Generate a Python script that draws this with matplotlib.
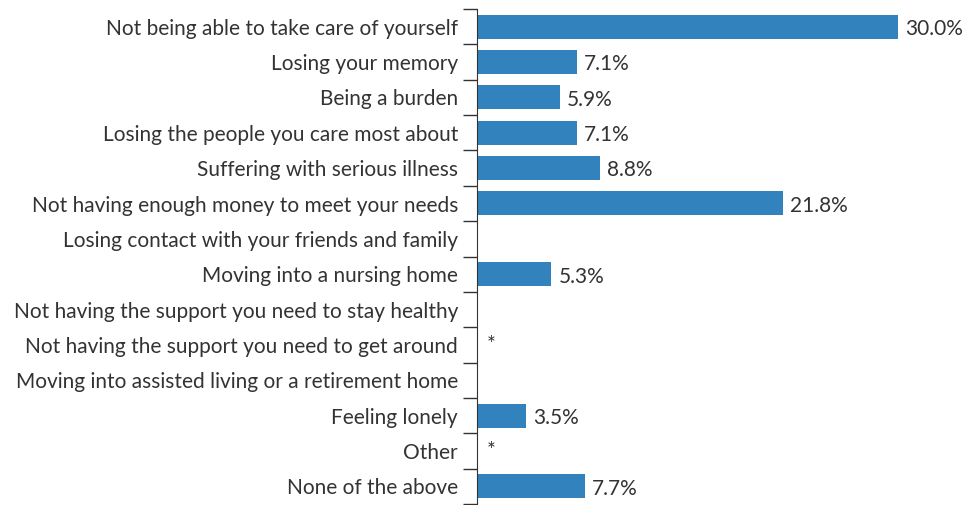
import numpy as np
import matplotlib.pyplot as plt

plt.rcParams['font.family'] = ['Lato', 'DejaVu Sans']

# answers, top to bottom
categories = [
    "Not being able to take care of yourself",
    "Losing your memory",
    "Being a burden",
    "Losing the people you care most about",
    "Suffering with serious illness",
    "Not having enough money to meet your needs",
    "Losing contact with your friends and family",
    "Moving into a nursing home",
    "Not having the support you need to stay healthy",
    "Not having the support you need to get around",
    "Moving into assisted living or a retirement home",
    "Feeling lonely",
    "Other",
    "None of the above",
]
# percent; nan = no bar shown
values = [30.0, 7.1, 5.9, 7.1, 8.8, 21.8, np.nan, 5.3, np.nan, 0.0, np.nan, 3.5, 0.0, 7.7]
value_labels = ["30.0%", "7.1%", "5.9%", "7.1%", "8.8%", "21.8%", "", "5.3%", "",
                "*", "", "3.5%", "*", "7.7%"]

bar_color = "#3182bd"
text_color = "#333333"

fig = plt.figure(figsize=(9.66, 5.06), dpi=100)
ax = fig.add_axes([477 / 966, 1 / 506, (898 - 477) / 966, 495 / 506])

y = np.arange(len(categories))
vals = np.nan_to_num(np.array(values))
ax.barh(y, vals, height=0.68, color=bar_color)

for yi, v, lab in zip(y, vals, value_labels):
    if lab:
        star = lab == "*"
        ax.annotate(lab, (v, yi), xytext=(7 if star else 5, 1 if star else -1), textcoords="offset points",
                    ha="left", va="center", fontsize=15, color=text_color)

ax.set_xlim(0, 30)
ax.set_ylim(len(categories) - 0.5, -0.5)

# category names as text, ticks at boundaries
ax.set_yticks(np.arange(len(categories) + 1) - 0.5)
ax.set_yticklabels([])
ax.tick_params(axis="y", length=10, width=1, color="#333333", direction="out")
for yi, cat in zip(y, categories):
    ax.text(-0.045, yi + 0.03, cat, transform=ax.get_yaxis_transform(), ha="right", va="center",
            fontsize=15, color=text_color)

ax.set_xticks([])
for s in ["top", "right", "bottom"]:
    ax.spines[s].set_visible(False)
ax.spines["left"].set_color("#333333")

fig.savefig("out.png", dpi=100)
